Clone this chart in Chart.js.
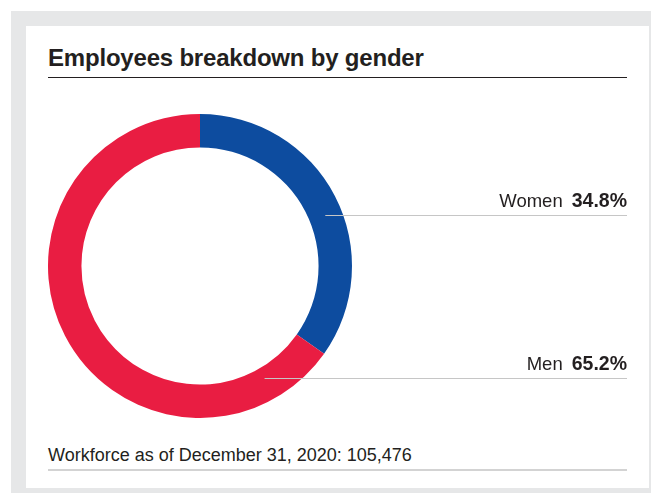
<!DOCTYPE html>
<html>
<head>
<meta charset="utf-8">
<script src="https://cdn.jsdelivr.net/npm/chart.js@4.4.1/dist/chart.umd.min.js"></script>
<style>
  body { margin: 0; width: 651px; height: 493px; background: #fff; position: relative; overflow: hidden;
         font-family: "Liberation Sans", Arial, sans-serif; color: #231f20; }
  #frame { position: absolute; left: 11px; top: 11px; width: 640px; height: 482px; background: #e6e7e8; }
  #panel { position: absolute; left: 26px; top: 26px; width: 623px; height: 462px; background: #fff; }
  #title { position: absolute; left: 48px; top: 45px; width: 579px; font-size: 24px; font-weight: bold;
           letter-spacing: -0.2px; padding-bottom: 6px; border-bottom: 1.5px solid #231f20; line-height: 26px; }
  #footer { position: absolute; left: 48px; top: 445px; width: 579px; font-size: 18px; line-height: 20px;
            padding-bottom: 4px; border-bottom: 2px solid #d3d3d3; letter-spacing: 0px; }
  .lbl { position: absolute; right: 24px; font-size: 18.5px; line-height: 20px; }
  .lbl b { margin-left: 9px; font-size: 19.5px; }
  #chartBox { position: absolute; left: 48px; top: 114px; width: 580px; height: 304px; }
</style>
</head>
<body>
<div id="frame"></div>
<div id="panel"></div>
<div id="title">Employees breakdown by gender</div>
<div id="chartBox"><canvas id="genderChart"></canvas></div>
<div id="footer">Workforce as of December 31, 2020: 105,476</div>
<script>
// Data
const categories = ['Women', 'Men'];
const shares = [34.8, 65.2];
const colors = ['#0d4c9f', '#e91d42'];

// leader line heights (page y) and text tops for each label
const lineY = [215, 378];
const textTop = [190, 353];

// draw the thin grey leader lines from the ring to the right edge
const leaderLines = {
    id: 'leaderLines',
    afterDraw(chart) {
        const ctx = chart.ctx;
        const meta = chart.getDatasetMeta(0);
        const box = document.getElementById('chartBox');
        const top = box.offsetTop;
        meta.data.forEach((arc, i) => {
            const midR = (arc.innerRadius + arc.outerRadius) / 2 - (i === 1 ? 6 : 0);
            const y = lineY[i] - top;
            const dy = y - arc.y;
            const x0 = arc.x + Math.sqrt(Math.max(0, midR * midR - dy * dy));
            ctx.save();
            ctx.strokeStyle = '#c6c6c6';
            ctx.lineWidth = 1;
            ctx.beginPath();
            ctx.moveTo(x0, y + 0.5);
            ctx.lineTo(chart.width - 1, y + 0.5);
            ctx.stroke();
            ctx.restore();
        });
    }
};

const chartCtx = document.getElementById('genderChart').getContext('2d');
new Chart(chartCtx, {
    type: 'doughnut',
    data: {
        labels: categories,
        datasets: [{
            data: shares,
            backgroundColor: colors,
            borderWidth: 0,
        }],
    },
    options: {
        responsive: true,
        maintainAspectRatio: false,
        animation: false,
        cutout: '78%',
        layout: { padding: { right: 276 } },
        plugins: {
            legend: { display: false },
            tooltip: { enabled: false },
        },
    },
    plugins: [leaderLines],
});

// labels on the right
categories.forEach((name, i) => {
    const el = document.createElement('div');
    el.className = 'lbl';
    el.style.top = textTop[i] + 'px';
    el.innerHTML = name + '<b>' + shares[i].toFixed(1) + '%</b>';
    document.body.appendChild(el);
});
</script>
</body>
</html>
